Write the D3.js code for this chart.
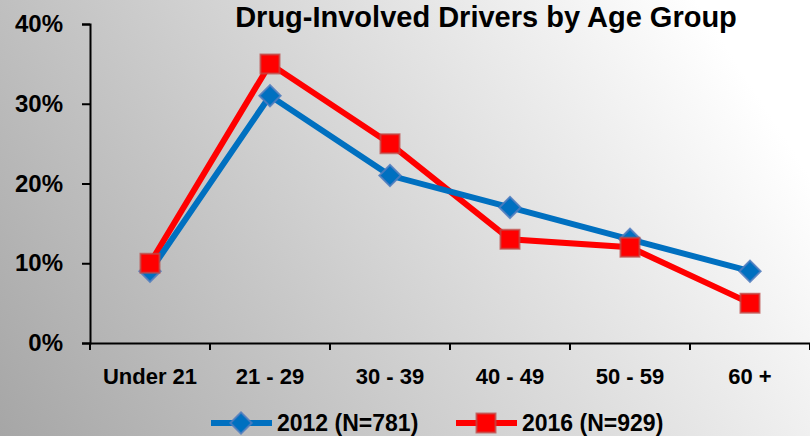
<!DOCTYPE html>
<html>
<head>
<meta charset="utf-8">
<script src="https://cdn.jsdelivr.net/npm/d3@7"></script>
<style>
  body { margin: 0; }
  svg { display: block; font-family: "Liberation Sans", Arial, sans-serif; font-weight: bold; }
</style>
</head>
<body>
<script>
'use strict'

const ageGroups = ['Under 21', '21 - 29', '30 - 39', '40 - 49', '50 - 59', '60 +']
const values2012 = [0.09, 0.31, 0.21, 0.17, 0.13, 0.09]
const values2016 = [0.10, 0.35, 0.25, 0.13, 0.12, 0.05]
const seriesNames = ['2012 (N=781)', '2016 (N=929)']
const yTicks = [0, 0.1, 0.2, 0.3, 0.4]

const W = 810, H = 436
const margin = {top: 24, right: 0, bottom: 93, left: 90}
const height = H - margin.top - margin.bottom

const svg = d3.select('body').append('svg')
    .attr('width', W)
    .attr('height', H)

// background: grey bottom-left fading to white top-right
const grad = svg.append('defs').append('linearGradient')
    .attr('id', 'bg')
    .attr('gradientUnits', 'userSpaceOnUse')
    .attr('x1', 0).attr('y1', H)
    .attr('x2', 690).attr('y2', -10)
grad.append('stop').attr('offset', 0).attr('stop-color', '#a6a6a6')
grad.append('stop').attr('offset', 1).attr('stop-color', '#ffffff')

svg.append('rect')
    .attr('width', W)
    .attr('height', H)
    .attr('fill', 'url(#bg)')

svg.append('text')
    .attr('x', 486)
    .attr('y', 27)
    .attr('text-anchor', 'middle')
    .style('font-size', '29px')
    .text('Drug-Involved Drivers by Age Group')

const g = svg.append('g')
    .attr('transform', `translate(${margin.left},${margin.top})`)

const x = d3.scaleBand()
  .domain(ageGroups)
  .range([0, W - margin.left - margin.right])

const y = d3.scaleLinear()
  .domain([0, 0.4])
  .range([height, 0])

// y axis
const yAxis = g.append('g')
    .call(d3.axisLeft(y).tickValues(yTicks).tickFormat(d3.format('.0%')).tickSize(8).tickPadding(19))
yAxis.select('.domain').attr('stroke', '#000').attr('stroke-width', 2)
yAxis.selectAll('.tick line').attr('stroke', '#000').attr('stroke-width', 2)
yAxis.selectAll('text')
    .attr('fill', '#000')
    .style('font-size', '24px')
    .style('font-family', '"Liberation Sans", Arial, sans-serif')
    .style('font-weight', 'bold')

// x axis: labels at band centres, ticks at band edges
const xAxis = g.append('g')
    .attr('transform', `translate(0,${height})`)
    .call(d3.axisBottom(x).tickSize(0).tickSizeOuter(0).tickPadding(25))
xAxis.select('.domain').attr('stroke', '#000').attr('stroke-width', 2)
xAxis.selectAll('text')
    .attr('fill', '#000')
    .style('font-size', '22px')
    .style('font-family', '"Liberation Sans", Arial, sans-serif')
    .style('font-weight', 'bold')

const edges = ageGroups.map(d => x(d)).concat([x.range()[1]])
xAxis.selectAll('.edge')
    .data(edges)
  .enter().append('line')
    .attr('class', 'edge')
    .attr('x1', d => d).attr('x2', d => d)
    .attr('y1', 0).attr('y2', 7)
    .attr('stroke', '#000')
    .attr('stroke-width', 2)

const cx = i => x(ageGroups[i]) + x.bandwidth() / 2
const line = d3.line()
  .x((d, i) => cx(i))
  .y(d => y(d))

const blue = '#0070c0', red = '#ff0000'
const diamond = d3.symbol().type(d3.symbolSquare).size(225)
const square = d3.symbol().type(d3.symbolSquare).size(361)

g.append('path')
    .datum(values2016)
    .attr('d', line)
    .attr('fill', 'none')
    .attr('stroke', red)
    .attr('stroke-width', 6)

g.append('path')
    .datum(values2012)
    .attr('d', line)
    .attr('fill', 'none')
    .attr('stroke', blue)
    .attr('stroke-width', 6)

g.selectAll('.dot2012')
    .data(values2012)
  .enter().append('path')
    .attr('class', 'dot2012')
    .attr('d', diamond)
    .attr('transform', (d, i) => `translate(${cx(i)},${y(d)}) rotate(45)`)
    .attr('fill', blue)
    .attr('stroke', 'rgba(80,125,190,0.85)')
    .attr('stroke-width', 2)

g.selectAll('.dot2016')
    .data(values2016)
  .enter().append('path')
    .attr('class', 'dot2016')
    .attr('d', square)
    .attr('transform', (d, i) => `translate(${cx(i)},${y(d)})`)
    .attr('fill', red)
    .attr('stroke', 'rgba(190,75,72,0.75)')
    .attr('stroke-width', 2)

// legend
const legend = svg.selectAll('.legend')
    .data(seriesNames)
  .enter().append('g')
    .attr('class', 'legend')
    .attr('transform', (d, i) => `translate(${211 + i * 245},423)`)

legend.append('line')
    .attr('x1', 0).attr('x2', 61)
    .attr('stroke', (d, i) => i ? red : blue)
    .attr('stroke-width', 6)

legend.append('path')
    .attr('d', (d, i) => i ? square() : diamond())
    .attr('transform', (d, i) => i ? 'translate(30,0)' : 'translate(30,0) rotate(45)')
    .attr('fill', (d, i) => i ? red : blue)
    .attr('stroke', (d, i) => i ? 'rgba(190,75,72,0.75)' : 'rgba(80,125,190,0.85)')
    .attr('stroke-width', 2)

legend.append('text')
    .attr('x', 66)
    .attr('y', 8)
    .style('font-size', '23px')
    .text(d => d)
</script>
</body>
</html>
